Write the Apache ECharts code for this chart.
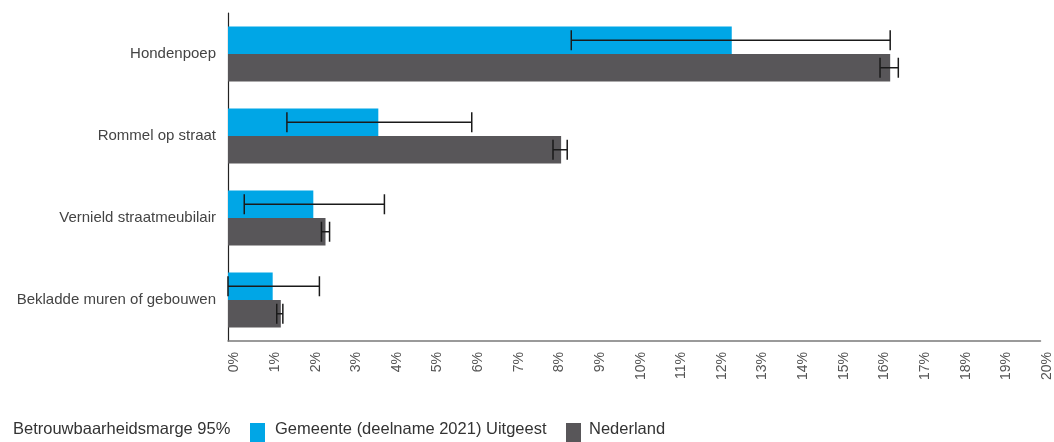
<!DOCTYPE html>
<html><head><meta charset="utf-8">
<script src="https://cdn.jsdelivr.net/npm/echarts@6/dist/echarts.min.js"></script>
<style>html,body{margin:0;padding:0;background:#fff}#c{width:1054px;height:442px}</style>
</head><body><div id="c"></div>
<script>
const categories = ['Hondenpoep', 'Rommel op straat', 'Vernield straatmeubilair', 'Bekladde muren of gebouwen'];
const gemeente = [12.4, 3.7, 2.1, 1.1];
const nederland = [16.3, 8.2, 2.4, 1.3];
const gemeenteLow = [8.45, 1.45, 0.4, 0];
const gemeenteHigh = [16.3, 6.0, 3.85, 2.25];
const nederlandLow = [16.05, 8.0, 2.3, 1.2];
const nederlandHigh = [16.5, 8.35, 2.5, 1.35];
const xTicks = [0,1,2,3,4,5,6,7,8,9,10,11,12,13,14,15,16,17,18,19,20];
const seriesNames = ['Gemeente (deelname 2021) Uitgeest', 'Nederland'];
const marginLabel = 'Betrouwbaarheidsmarge 95%';

const colors = ['#00a6e6', '#585659'];
const barCatGap = 0.33;

function errData(low, high) { return categories.map((c, i) => [i, low[i], high[i]]); }

function errRender(side) {
  return function (params, api) {
    const i = api.value(0);
    const lo = api.coord([api.value(1), i]);
    const hi = api.coord([api.value(2), i]);
    const band = api.size([0, 1])[1];
    const bw = band * (1 - barCatGap) / 2;
    const y = lo[1] + side * bw / 2;
    const h = 10;
    const st = { stroke: '#1a1a1a', lineWidth: 1.5 };
    return { type: 'group', children: [
      { type: 'line', shape: { x1: lo[0], y1: y, x2: hi[0], y2: y }, style: st },
      { type: 'line', shape: { x1: lo[0], y1: y - h, x2: lo[0], y2: y + h }, style: st },
      { type: 'line', shape: { x1: hi[0], y1: y - h, x2: hi[0], y2: y + h }, style: st }
    ]};
  };
}

const legendFont = '16.5px "Liberation Sans", Arial, sans-serif';

const chart = echarts.init(document.getElementById('c'), null, { renderer: 'canvas' });
chart.setOption({
  animation: false,
  grid: { left: 228, right: 12, top: 13, bottom: 101, containLabel: false },
  xAxis: {
    type: 'value', min: 0, max: 20, interval: 1,
    axisLine: { show: true, lineStyle: { color: '#7a7a7a', width: 1.5 } },
    axisTick: { show: false },
    splitLine: { show: false },
    axisLabel: {
      rotate: 90, margin: 11, color: '#555',
      fontFamily: 'Liberation Sans, Arial, sans-serif',
      formatter: v => xTicks.includes(v) ? '{s| }\n{a|' + v + '%}' : '',
      rich: {
        s: { fontSize: 4, lineHeight: 13 },
        a: { fontSize: 14, lineHeight: 16, color: '#555', fontFamily: 'Liberation Sans, Arial, sans-serif' }
      }
    }
  },
  yAxis: {
    type: 'category', data: categories, inverse: true,
    axisLine: { show: true, lineStyle: { color: '#222', width: 1.2 } },
    axisTick: { show: false },
    axisLabel: { margin: 12, fontSize: 15, color: '#444', fontFamily: 'Liberation Sans, Arial, sans-serif' }
  },
  series: [
    { name: seriesNames[0], type: 'bar', data: gemeente, barGap: '0%', barCategoryGap: (barCatGap * 100) + '%', itemStyle: { color: colors[0] } },
    { name: seriesNames[1], type: 'bar', data: nederland, itemStyle: { color: colors[1] } },
    { name: marginLabel, type: 'custom', renderItem: errRender(-1), data: errData(gemeenteLow, gemeenteHigh), z: 5, encode: { x: [1, 2], y: 0 } },
    { name: marginLabel + ' NL', type: 'custom', renderItem: errRender(1), data: errData(nederlandLow, nederlandHigh), z: 5, encode: { x: [1, 2], y: 0 } }
  ],
  graphic: [
    { type: 'text', x: 13, y: 421, style: { text: marginLabel, font: legendFont, fill: '#333' } },
    { type: 'rect', x: 250, y: 423, shape: { width: 15, height: 20 }, style: { fill: colors[0] } },
    { type: 'text', x: 275, y: 421, style: { text: seriesNames[0], font: legendFont, fill: '#333' } },
    { type: 'rect', x: 566, y: 423, shape: { width: 15, height: 20 }, style: { fill: colors[1] } },
    { type: 'text', x: 589, y: 421, style: { text: seriesNames[1], font: legendFont, fill: '#333' } }
  ]
});
</script></body></html>
